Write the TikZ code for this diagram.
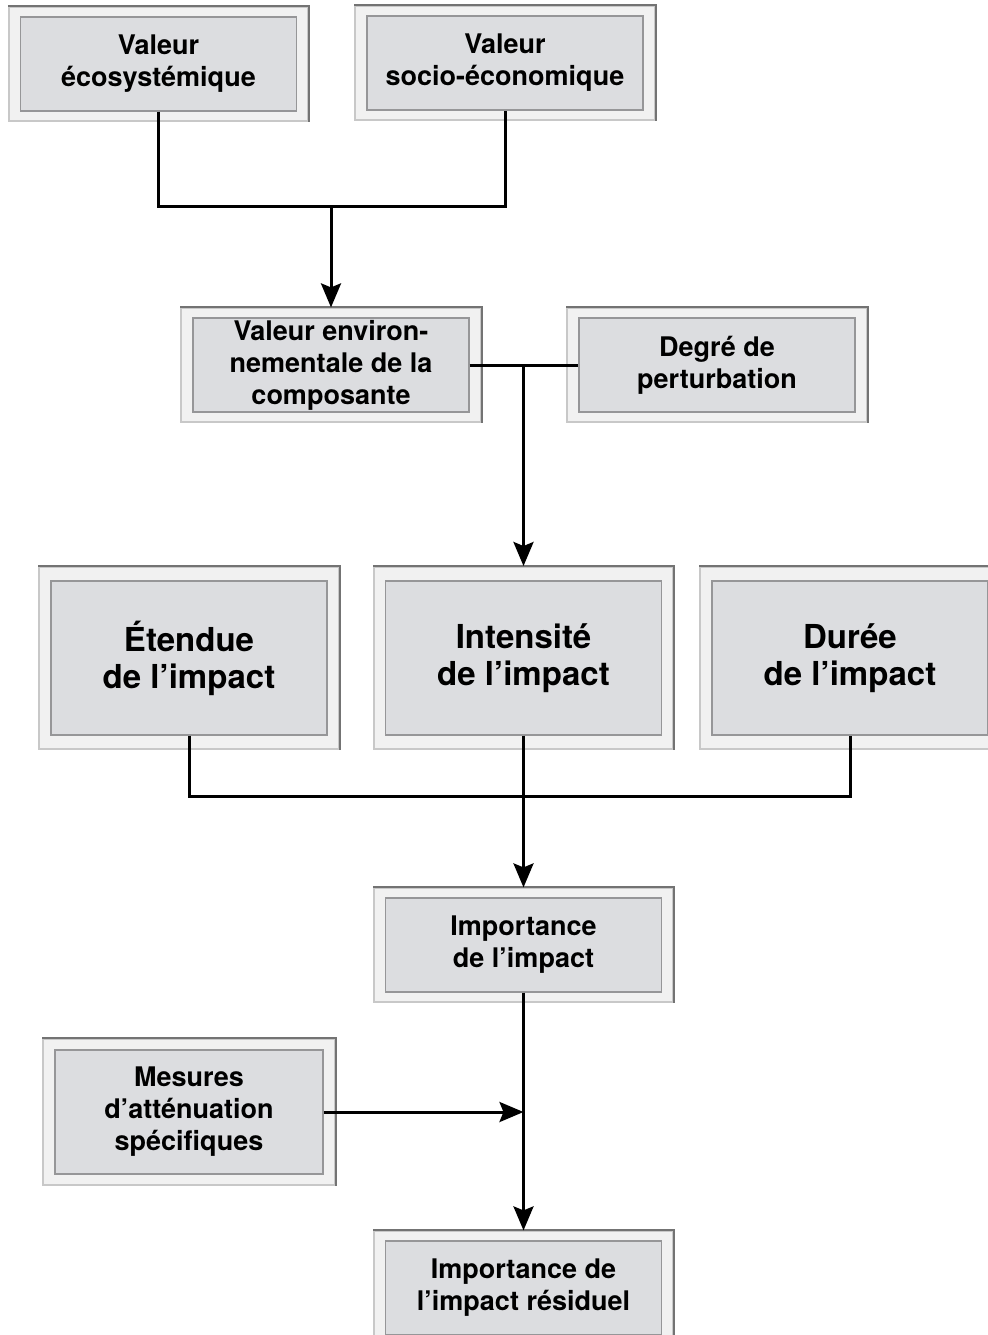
\documentclass[tikz,border=0pt]{standalone}
\usepackage{fontspec}
\setmainfont{TeX Gyre Heros}
\usetikzlibrary{arrows.meta,fit,backgrounds}

\definecolor{boxgray}{RGB}{220,221,224}
\definecolor{boxline}{RGB}{150,150,152}
\definecolor{framegray}{RGB}{241,241,241}
\definecolor{framelight}{RGB}{200,200,200}
\definecolor{framedark}{RGB}{115,115,115}

\tikzset{
  inbox/.style={draw=boxline, line width=0.6pt, fill=boxgray, align=center,
    font=\bfseries\fontsize{13.5}{16}\selectfont,
    minimum width=138pt, minimum height=47pt, inner sep=0pt},
  bigbox/.style={inbox, font=\bfseries\fontsize{16.5}{18.5}\selectfont, minimum height=77pt},
  frame/.style={draw=framelight, line width=1pt, fill=framegray, inner xsep=5.5pt},
  link/.style={line width=1.5pt},
  arr/.style={link, -{Stealth[length=12pt,width=10pt,inset=2pt]}}
}

\begin{document}
\begin{tikzpicture}[x=0.5pt,y=-0.5pt]
\useasboundingbox (0,0) rectangle (987,1335);

% inner boxes
\node[inbox] (ieco) at (158.5,64) {Valeur\\écosystémique};
\node[inbox] (isoc) at (505,63) {Valeur\\socio-économique};
\node[inbox] (ienv) at (331,365) {Valeur environ-\\nementale de la\\composante};
\node[inbox] (ideg) at (717,365) {Degré de\\perturbation};
\node[bigbox] (iete) at (189,658) {Étendue\\de l’impact};
\node[bigbox] (iint) at (523.5,658) {Intensité\\de l’impact};
\node[bigbox] (idur) at (850,658) {Durée\\de l’impact};
\node[inbox] (iimp) at (523.5,945) {Importance\\de l’impact};
\node[inbox, minimum width=134pt, minimum height=62pt] (imes) at (189,1112) {Mesures\\d’atténuation\\spécifiques};
\node[inbox] (ires) at (523.5,1288) {Importance de\\l’impact résiduel};

% frames
\begin{scope}[on background layer]
\foreach \n/\s in {eco/4.5pt,soc/4.5pt,env/4.5pt,deg/4.5pt,ete/6.7pt,int/6.7pt,dur/6.7pt,imp/4.5pt,mes/5pt,res/4.5pt}
{
\node[frame, inner ysep=\s, fit=(i\n)] (f\n) {};
\draw[framedark, line width=1pt] (f\n.north west) -- (f\n.north east) -- (f\n.south east);
}
\end{scope}

% connectors
\coordinate (topjoin) at (331,206);
\coordinate (midjoin) at (523.5,365);
\coordinate (lowjoin) at (523.5,796);
\coordinate (mesjoin) at (523.5,1112);

\draw[link] (ieco.south) |- (topjoin) -| (isoc.south);
\draw[arr] (topjoin) -- (fenv.north);
\draw[link] (ienv.east) -- (ideg.west);
\draw[arr] (midjoin) -- (fint.north);
\draw[link] (iete.south) |- (lowjoin) -| (idur.south);
\draw[arr] (iint.south) -- (fimp.north);
\draw[arr] (iimp.south) -- (fres.north);
\draw[arr] (imes.east) -- (mesjoin);

\end{tikzpicture}
\end{document}
